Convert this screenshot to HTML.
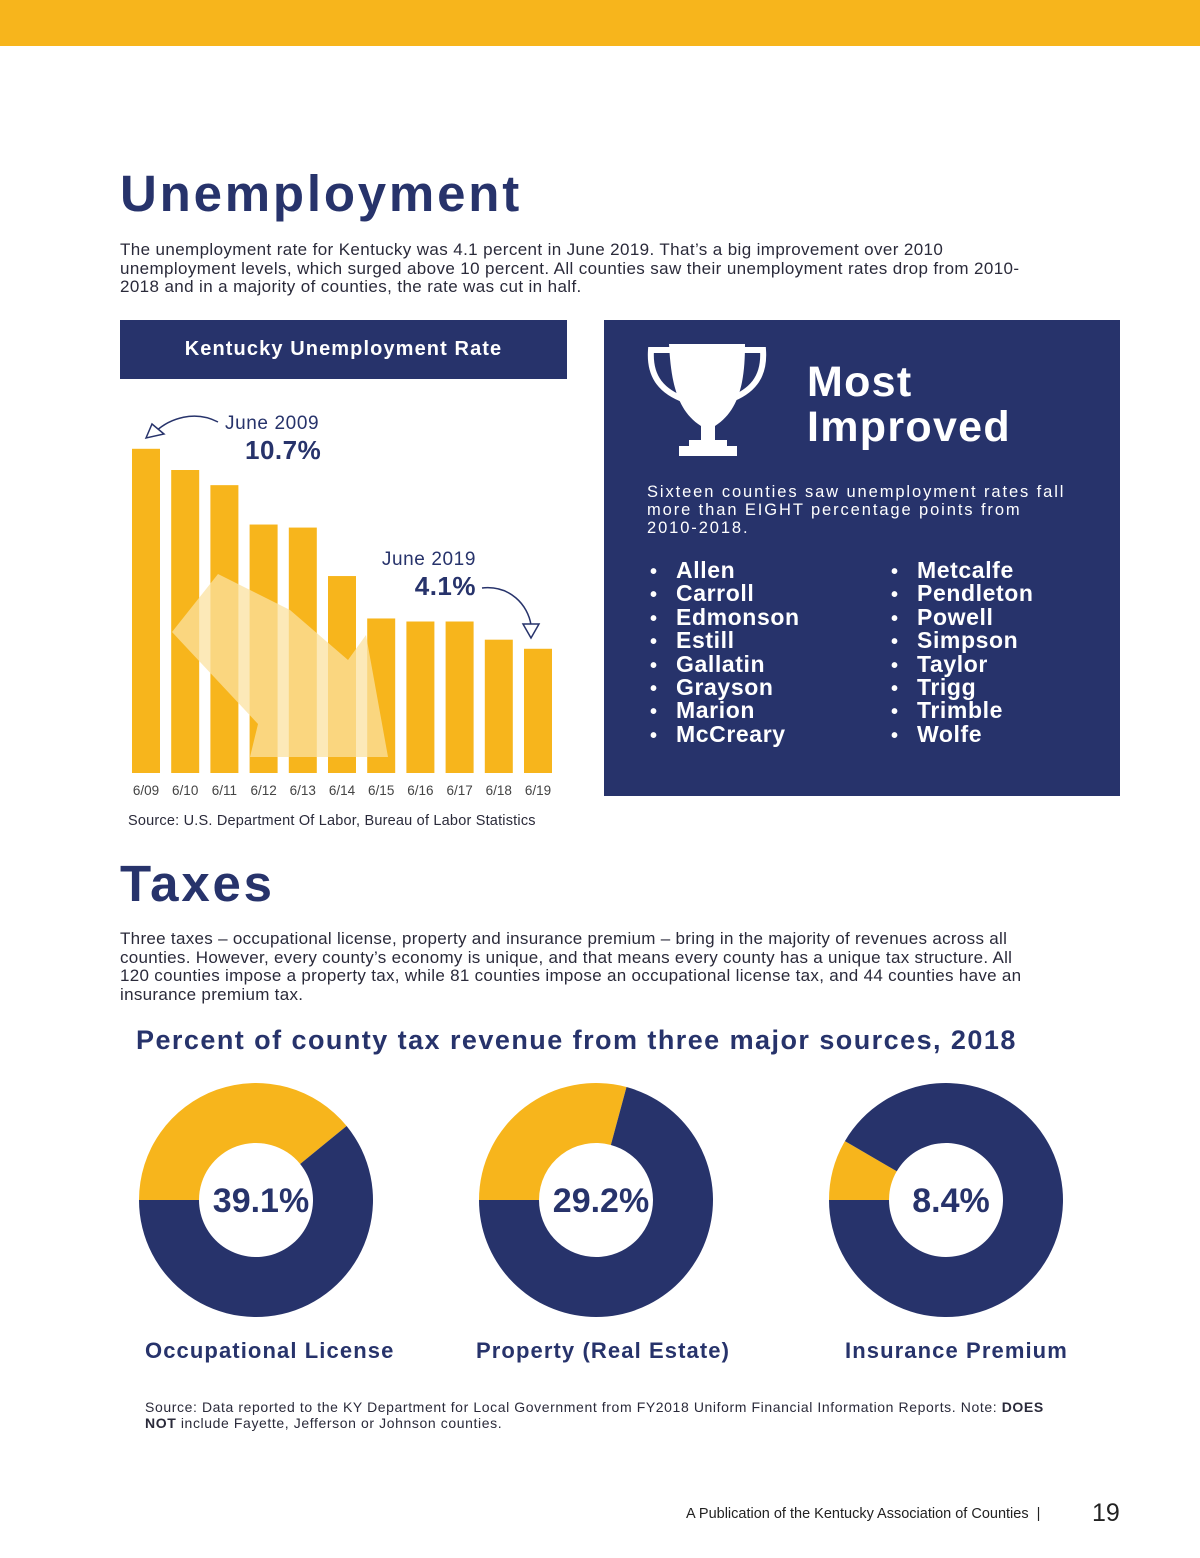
<!DOCTYPE html>
<html><head><meta charset="utf-8">
<style>
*{margin:0;padding:0;box-sizing:border-box}
body{width:1200px;height:1558px;background:#fff;position:relative;overflow:hidden;font-family:"Liberation Sans",sans-serif;color:#27336B}
.a{position:absolute}
h1{position:absolute;font-size:51px;font-weight:bold;color:#27336B;letter-spacing:2.8px}
.p{position:absolute;font-size:17px;line-height:18.5px;color:#2a2a3a;letter-spacing:0.38px;white-space:nowrap}
.list{position:absolute;color:#fff;font-weight:bold;font-size:23px;list-style:none;letter-spacing:0.6px}
.list li{height:23.4px;line-height:23.4px}
.list li:before{content:"•";display:inline-block;width:26px;font-size:20px;padding-left:3px}
.lbl{position:absolute;font-size:22px;font-weight:bold;color:#27336B;letter-spacing:1.1px}
</style></head><body>
<div class="a" style="left:0;top:0;width:1200px;height:46px;background:#F7B51C"></div>

<h1 style="left:120px;top:164px">Unemployment</h1>
<div class="p" style="left:120px;top:241px">The unemployment rate for Kentucky was 4.1 percent in June 2019. That’s a big improvement over 2010<br>unemployment levels, which surged above 10 percent. All counties saw their unemployment rates drop from 2010-<br>2018 and in a majority of counties, the rate was cut in half.</div>

<div class="a" style="left:120px;top:320px;width:447px;height:59px;background:#27336B;color:#fff;font-weight:bold;font-size:20px;line-height:59px;text-align:center;letter-spacing:1.1px">Kentucky Unemployment Rate</div>

<svg class="a" id="bars" style="left:0;top:380px" width="600" height="430" viewBox="0 380 600 430"></svg>

<div class="a" style="left:128px;top:813px;font-size:14.5px;color:#2a2a3a;letter-spacing:0.2px">Source: U.S. Department Of Labor, Bureau of Labor Statistics</div>

<div class="a" style="left:604px;top:320px;width:516px;height:476px;background:#27336B"></div>
<svg class="a" style="left:645px;top:340px" width="126" height="120" viewBox="0 0 126 120">
<path d="M24 4 H100 C100 40 95 70 70 86 L70 102 H56 L56 86 C31 70 26 40 24 4Z" fill="#fff"/>
<path d="M26 10 H6 C4 38 18 52 40 60" fill="none" stroke="#fff" stroke-width="6" stroke-linecap="round"/>
<path d="M98 10 H118 C120 38 106 52 84 60" fill="none" stroke="#fff" stroke-width="6" stroke-linecap="round"/>
<rect x="44" y="100" width="38" height="8" fill="#fff"/><rect x="34" y="106" width="58" height="10" fill="#fff"/>
</svg>
<div class="a" style="left:807px;top:360px;color:#fff;font-weight:bold;font-size:43px;line-height:45px;letter-spacing:1.3px">Most<br>Improved</div>
<div class="a" style="left:647px;top:483px;color:#fff;font-size:16.5px;line-height:18px;letter-spacing:1.9px;white-space:nowrap">Sixteen counties saw unemployment rates fall<br>more than EIGHT percentage points from<br>2010-2018.</div>
<ul class="list" style="left:647px;top:559px">
<li>Allen</li><li>Carroll</li><li>Edmonson</li><li>Estill</li><li>Gallatin</li><li>Grayson</li><li>Marion</li><li>McCreary</li></ul>
<ul class="list" style="left:888px;top:559px">
<li>Metcalfe</li><li>Pendleton</li><li>Powell</li><li>Simpson</li><li>Taylor</li><li>Trigg</li><li>Trimble</li><li>Wolfe</li></ul>

<h1 style="left:120px;top:854px">Taxes</h1>
<div class="p" style="left:120px;top:930px;letter-spacing:0.3px">Three taxes – occupational license, property and insurance premium – bring in the majority of revenues across all<br>counties. However, every county’s economy is unique, and that means every county has a unique tax structure. All<br>120 counties impose a property tax, while 81 counties impose an occupational license tax, and 44 counties have an<br>insurance premium tax.</div>

<div class="a" style="left:136px;top:1025px;font-size:27px;font-weight:bold;color:#27336B;letter-spacing:1.45px;white-space:nowrap">Percent of county tax revenue from three major sources, 2018</div>

<svg class="a" id="donuts" style="left:0;top:1070px" width="1200" height="260" viewBox="0 1070 1200 260"></svg>

<div class="lbl" style="left:145px;top:1338px">Occupational License</div>
<div class="lbl" style="left:476px;top:1338px">Property (Real Estate)</div>
<div class="lbl" style="left:845px;top:1338px">Insurance Premium</div>

<div class="a" style="left:145px;top:1399px;font-size:14px;line-height:16px;color:#2a2a3a;white-space:nowrap;letter-spacing:0.6px">Source: Data reported to the KY Department for Local Government from FY2018 Uniform Financial Information Reports. Note: <b>DOES</b><br><b>NOT</b> include Fayette, Jefferson or Johnson counties.</div>

<div class="a" style="left:686px;top:1506px;font-size:14.5px;color:#222">A Publication of the Kentucky Association of Counties &nbsp;| </div>
<div class="a" style="left:1092px;top:1499px;font-size:25px;color:#222">19</div>

<script>
const barCategories = ["6/09","6/10","6/11","6/12","6/13","6/14","6/15","6/16","6/17","6/18","6/19"];
const barValues = [10.7,10.0,9.5,8.2,8.1,6.5,5.1,5.0,5.0,4.4,4.1];
const donutLabels = ["39.1%","29.2%","8.4%"];
const donutValues = [39.1,29.2,8.4];

const NS="http://www.w3.org/2000/svg";
function mk(svg,tag,attrs){const e=document.createElementNS(NS,tag);for(const k in attrs)e.setAttribute(k,attrs[k]);svg.appendChild(e);return e;}

const bs=document.getElementById('bars');
const base=773, pxPer=30.3, x0=132, step=39.2, bw=28;
const xS=i=>x0+i*step, yS=v=>base-v*pxPer;
barValues.forEach((v,i)=>{
  const r=mk(bs,'rect',{x:xS(i),y:yS(v),width:bw,height:base-yS(v),fill:'#F7B51C'});
  
  
  const t=mk(bs,'text',{x:xS(i)+bw/2,y:795,'text-anchor':'middle','font-size':13.5,fill:'#444','font-family':'Liberation Sans, sans-serif'});
  t.textContent=barCategories[i];
  
  
});
const sil=mk(bs,'polygon',{points:'172,632 218,574 290,610 348,660 366,635 388,757 250,757 258,724 172,632',fill:'#FBE1A0',opacity:0.75});


function ann(x,y,t1,t2,anchor){
  const a=mk(bs,'text',{x:x,y:y,'font-size':19,fill:'#27336B','text-anchor':anchor,'letter-spacing':0.6,'font-family':'Liberation Sans, sans-serif'});a.textContent=t1;
  
  
  const b=mk(bs,'text',{x:x+(anchor==='end'?0:20),y:y+30,'font-size':26,'font-weight':'bold',fill:'#27336B','text-anchor':anchor,'letter-spacing':0.5,'font-family':'Liberation Sans, sans-serif'});b.textContent=t2;
  
  
}
ann(225,429,'June 2009',barValues[0].toFixed(1)+'%','start');
ann(476,565,'June 2019',barValues[10].toFixed(1)+'%','end');
const p1=mk(bs,'path',{d:'M218 422 C195 410 170 418 155 432',fill:'none',stroke:'#27336B','stroke-width':1.5});

mk(bs,'polygon',{points:'146,438 152,424 164,434',fill:'#fff',stroke:'#27336B','stroke-width':1.5});
const p2=mk(bs,'path',{d:'M482 588 C510 585 528 605 531 625',fill:'none',stroke:'#27336B','stroke-width':1.5});

mk(bs,'polygon',{points:'531,638 523,624 539,624',fill:'#fff',stroke:'#27336B','stroke-width':1.5});

const ds=document.getElementById('donuts');
const centers=[256,596,946], cy=1200, R=117, r0=57;
function arc(cx,a0,a1,fill,name){
  const pt=(a,rr)=>{const t=Math.PI+a*Math.PI/180;return [cx+rr*Math.cos(t),cy+rr*Math.sin(t)];};
  const large=(a1-a0)>180?1:0;
  const [x1,y1]=pt(a0,R),[x2,y2]=pt(a1,R),[x3,y3]=pt(a1,r0),[x4,y4]=pt(a0,r0);
  const p=mk(ds,'path',{d:`M${x1} ${y1} A${R} ${R} 0 ${large} 1 ${x2} ${y2} L${x3} ${y3} A${r0} ${r0} 0 ${large} 0 ${x4} ${y4}Z`,fill:fill});
  
  
}
donutValues.forEach((v,i)=>{
  const a=v*3.6;
  arc(centers[i],0,a,'#F7B51C','donut-slice-share-'+i);
  arc(centers[i],a,359.99,'#27336B','donut-slice-rest-'+i);
  const t=mk(ds,'text',{x:centers[i]+5,y:cy+12,'text-anchor':'middle','font-size':34,'font-weight':'bold',fill:'#27336B','font-family':'Liberation Sans, sans-serif'});
  t.textContent=donutLabels[i];
  
  
});
</script>
</body></html>
